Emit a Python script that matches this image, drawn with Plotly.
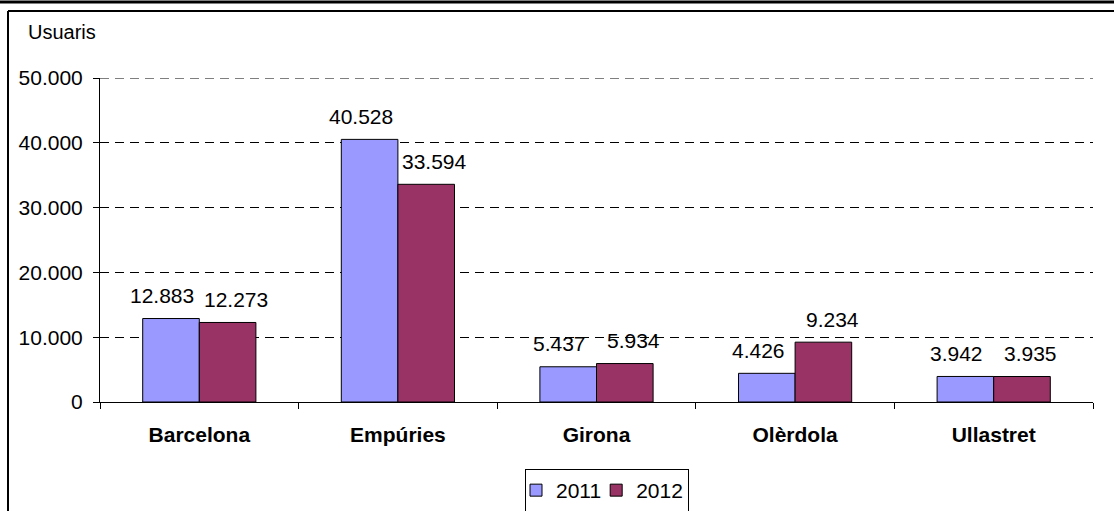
import plotly.graph_objects as go

# Dades
llocs = ["Barcelona", "Empúries", "Girona", "Olèrdola", "Ullastret"]
usuaris_2011 = [12883, 40528, 5437, 4426, 3942]
usuaris_2012 = [12273, 33594, 5934, 9234, 3935]
anys = ["2011", "2012"]
y_ticks = [0, 10000, 20000, 30000, 40000, 50000]


def punts(v):
    # separador de milers amb punt
    return f"{v:,}".replace(",", ".")


W, H = 1114, 511
L, R, T, B = 100, 21, 78, 109
pw, ph = W - L - R, H - T - B


def px_x(px):
    return (px - L) / pw


def px_y(py):
    return (H - B - py) / ph


FONT = "Liberation Sans, Arial, sans-serif"
FS = 21

fig = go.Figure()
fig.add_trace(go.Bar(x=llocs, y=usuaris_2011, name=anys[0],
                     marker=dict(color="#9999FF", line=dict(color="black", width=1))))
fig.add_trace(go.Bar(x=llocs, y=usuaris_2012, name=anys[1],
                     marker=dict(color="#993366", line=dict(color="black", width=1))))

# Etiquetes de dades
for serie, shift in ((usuaris_2011, -37), (usuaris_2012, 37)):
    for lloc, v in zip(llocs, serie):
        fig.add_annotation(x=lloc, y=v, xref="x", yref="y", text=punts(v),
                           showarrow=False, xshift=shift, yshift=23, yanchor="middle",
                           font=dict(size=FS, color="black", family=FONT))

# Títol de l'eix
fig.add_annotation(x=px_x(26), y=px_y(32), xref="paper", yref="paper", text="Usuaris",
                   showarrow=False, xanchor="left", yanchor="middle",
                   font=dict(size=FS - 1, color="black", family=FONT))

# línia de graella superior (plotly no la dibuixa a la vora)
fig.add_shape(type="line", xref="paper", yref="y", x0=0, x1=1, y0=y_ticks[-1], y1=y_ticks[-1],
              line=dict(color="black", width=1, dash="9px,6px"))

# Marc
fig.add_shape(type="line", xref="paper", yref="paper", x0=px_x(0), x1=px_x(W),
              y0=px_y(2), y1=px_y(2), line=dict(color="black", width=3))
fig.add_shape(type="line", xref="paper", yref="paper", x0=px_x(8), x1=px_x(W),
              y0=px_y(11), y1=px_y(11), line=dict(color="black", width=2))
fig.add_shape(type="line", xref="paper", yref="paper", x0=px_x(8), x1=px_x(8),
              y0=px_y(11), y1=px_y(H), line=dict(color="black", width=2))

fig.update_layout(
    width=W, height=H,
    margin=dict(l=L, r=R, t=T, b=B, autoexpand=False),
    paper_bgcolor="white", plot_bgcolor="white",
    barmode="group", bargap=0.43, bargroupgap=0,
    font=dict(family=FONT, size=FS, color="black"),
    legend=dict(orientation="h", x=px_x(607), xanchor="center", y=px_y(469), yanchor="top",
                bordercolor="black", borderwidth=1, font=dict(size=FS),
                itemwidth=30, indentation=-10, tracegroupgap=0),
)
fig.update_xaxes(showline=True, linecolor="black", linewidth=1,
                 ticks="outside", tickson="boundaries", ticklen=6, tickcolor="black",
                 tickfont=dict(size=FS, family=FONT, weight="bold"),
                 ticklabelstandoff=14)
fig.update_yaxes(range=[0, 50000], tickvals=y_ticks, ticktext=[punts(v) for v in y_ticks],
                 showline=True, linecolor="black", linewidth=1,
                 ticks="outside", ticklen=6, tickcolor="black",
                 showgrid=True, gridcolor="black", gridwidth=1, griddash="9px,6px",
                 zeroline=False, tickfont=dict(size=FS, family=FONT),
                 ticklabelstandoff=6)

fig.write_html("out.html", config={"displayModeBar": False},
               post_script="document.body.style.margin='0';")
